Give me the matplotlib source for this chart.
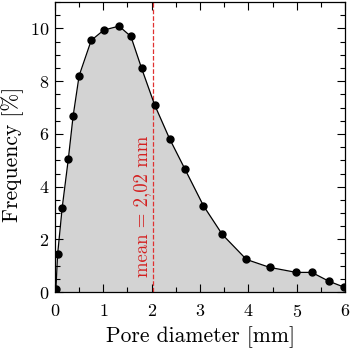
import matplotlib
matplotlib.use("Agg")
import matplotlib.pyplot as plt
from matplotlib.ticker import MultipleLocator

plt.rcParams['font.family'] = 'serif'
plt.rcParams['font.serif'] = ['cmr10', 'DejaVu Serif']
plt.rcParams['mathtext.fontset'] = 'cm'
plt.rcParams['axes.formatter.use_mathtext'] = True

diameter = [0.02, 0.055, 0.15, 0.276, 0.375, 0.50, 0.75, 1.01, 1.325, 1.57, 1.79,
            2.06, 2.37, 2.69, 3.07, 3.46, 3.96, 4.44, 4.99, 5.31, 5.67, 5.98]
frequency = [0.13, 1.43, 3.21, 5.04, 6.67, 8.21, 9.55, 9.94, 10.09, 9.70, 8.50,
             7.11, 5.82, 4.66, 3.28, 2.19, 1.24, 0.94, 0.75, 0.75, 0.41, 0.19]
mean_value = 2.02
mean_label = "mean = 2,02 mm"

fig = plt.figure(figsize=(3.5, 3.55), dpi=100)
ax = fig.add_axes([0.157, 0.177, 0.829, 0.817])

ax.fill_between(diameter, frequency, 0, color='#d3d3d3', linewidth=0, zorder=1)
ax.plot(diameter, frequency, color='black', linewidth=0.9, marker='o',
        markersize=5, zorder=3)
ax.axvline(mean_value, color='#e03030', linestyle='--', linewidth=0.9, zorder=2)
ax.text(1.80, 0.57, mean_label, rotation=90, color='#d42020', fontsize=13.5,
        ha='center', va='bottom')

ax.set_xlim(0, 6)
ax.set_ylim(0, 11)
ax.xaxis.set_major_locator(MultipleLocator(1))
ax.xaxis.set_minor_locator(MultipleLocator(0.5))
ax.yaxis.set_major_locator(MultipleLocator(2))
ax.yaxis.set_minor_locator(MultipleLocator(0.5))
ax.tick_params(which='both', direction='in', top=True, right=True, labelsize=13)
ax.tick_params(which='major', length=6, width=0.8)
ax.tick_params(which='minor', length=3.5, width=0.8)
ax.tick_params(axis='x', which='major', pad=8)
ax.tick_params(axis='y', which='major', pad=4)
for s in ax.spines.values():
    s.set_linewidth(0.9)

ax.set_xlabel("Pore diameter [mm]", fontsize=15.5, labelpad=4)
ax.set_ylabel("Frequency [%]", fontsize=15.5)
ax.yaxis.set_label_coords(-0.107, 0.476)

fig.savefig("out.png", dpi=100)
